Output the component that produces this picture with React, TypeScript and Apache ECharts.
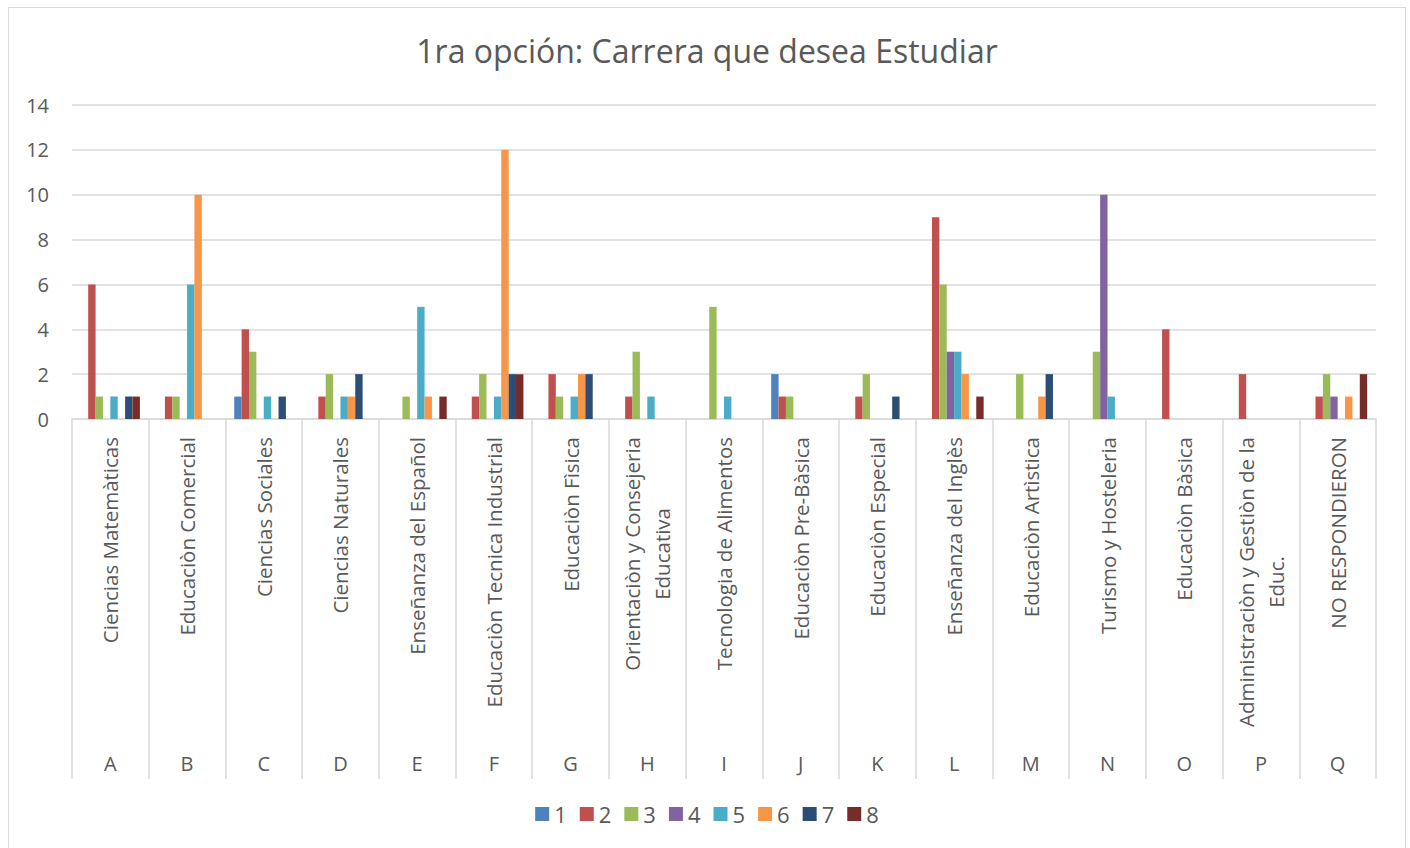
import React, { useEffect, useRef } from "react";
import * as echarts from "echarts";

const letters = ["A", "B", "C", "D", "E", "F", "G", "H", "I", "J", "K", "L", "M", "N", "O", "P", "Q"];
const careers = [
  "Ciencias Matemàticas",
  "Educaciòn Comercial",
  "Ciencias Sociales",
  "Ciencias Naturales",
  "Enseñanza del Español",
  "Educaciòn Tecnica Industrial",
  "Educaciòn Fìsica",
  "Orientaciòn y Consejeria\nEducativa",
  "Tecnologia de Alimentos",
  "Educaciòn Pre-Bàsica",
  "Educaciòn Especial",
  "Enseñanza del Inglès",
  "Educaciòn Artìstica",
  "Turismo y Hosteleria",
  "Educaciòn Bàsica",
  "Administraciòn y Gestiòn de la\nEduc.",
  "NO RESPONDIERON",
];
const seriesNames = ["1", "2", "3", "4", "5", "6", "7", "8"];
const colors = ["#4F81BD", "#C0504D", "#9BBB59", "#8064A2", "#4BACC6", "#F79646", "#2C4D75", "#772C2A"];

//              A  B  C  D  E  F   G  H  I  J  K  L  M  N   O  P  Q
const s1 = [0, 0, 1, 0, 0, 0, 0, 0, 0, 2, 0, 0, 0, 0, 0, 0, 0];
const s2 = [6, 1, 4, 1, 0, 1, 2, 1, 0, 1, 1, 9, 0, 0, 4, 2, 1];
const s3 = [1, 1, 3, 2, 1, 2, 1, 3, 5, 1, 2, 6, 2, 3, 0, 0, 2];
const s4 = [0, 0, 0, 0, 0, 0, 0, 0, 0, 0, 0, 3, 0, 10, 0, 0, 1];
const s5 = [1, 6, 1, 1, 5, 1, 1, 1, 1, 0, 0, 3, 0, 1, 0, 0, 0];
const s6 = [0, 10, 0, 1, 1, 12, 2, 0, 0, 0, 0, 2, 1, 0, 0, 0, 1];
const s7 = [1, 0, 1, 2, 0, 2, 2, 0, 0, 0, 1, 0, 2, 0, 0, 0, 0];
const s8 = [1, 0, 0, 0, 1, 2, 0, 0, 0, 0, 0, 1, 0, 0, 0, 0, 2];
const seriesData = [s1, s2, s3, s4, s5, s6, s7, s8];

const FONT = "Open Sans";
const TXT = "#595959";
const GRID = "#d9d9d9";

export default function App() {
  const ref = useRef<HTMLDivElement>(null);
  useEffect(() => {
    if (!ref.current) return;
    const chart = echarts.init(ref.current, undefined, { renderer: "svg" });
    chart.setOption({
      animation: false,
      textStyle: { fontFamily: FONT },
      title: {
        text: "1ra opción: Carrera que desea Estudiar",
        left: "center",
        top: 21,
        textStyle: { fontFamily: FONT, fontSize: 32, fontWeight: "normal", color: TXT },
      },
      legend: {
        data: seriesNames,
        top: 790,
        left: "center",
        itemWidth: 14,
        itemHeight: 14,
        itemGap: 13,
        icon: "rect",
        textStyle: { fontFamily: FONT, fontSize: 22, color: TXT },
      },
      grid: { left: 63, top: 97, width: 1304, height: 314, containLabel: false },
      xAxis: [
        {
          type: "category",
          data: careers,
          position: "bottom",
          axisLine: { show: true, lineStyle: { color: GRID, width: 1.5 } },
          axisTick: { show: true, length: 360, interval: 0, lineStyle: { color: GRID, width: 1.5 } },
          axisLabel: {
            interval: 0,
            rotate: 90,
            margin: 18,
            fontFamily: FONT,
            fontSize: 20.5,
            lineHeight: 30,
            color: TXT,
            formatter: (v: string) =>
              v
                .split("\n")
                .map((l) => "{c|" + l + "}")
                .join("\n"),
            rich: {
              c: { align: "center", fontFamily: FONT, fontSize: 20.5, lineHeight: 30, color: TXT },
            },
          },
        },
        {
          type: "category",
          data: letters,
          position: "bottom",
          axisLine: { show: false },
          axisTick: { show: false },
          axisLabel: { interval: 0, margin: 334, fontFamily: FONT, fontSize: 20, color: TXT },
        },
      ],
      yAxis: {
        type: "value",
        min: 0,
        max: 14,
        interval: 2,
        axisLine: { show: false },
        axisTick: { show: false },
        splitLine: { lineStyle: { color: GRID, width: 1.5 } },
        axisLabel: { margin: 23, fontFamily: FONT, fontSize: 20, color: TXT },
      },
      series: seriesData.map((d, i) => ({
        name: seriesNames[i],
        type: "bar",
        xAxisIndex: 0,
        data: d,
        barGap: "0%",
        barCategoryGap: "23%",
        itemStyle: { color: colors[i] },
      })),
    });
    return () => chart.dispose();
  }, []);
  return (
    <div
      style={{
        position: "absolute",
        left: 8,
        top: 7,
        width: 1398,
        height: 850,
        border: "1px solid #d9d9d9",
        boxSizing: "border-box",
      }}
    >
      <div ref={ref} style={{ position: "absolute", left: 0, top: 0, width: 1396, height: 848 }} />
    </div>
  );
}
